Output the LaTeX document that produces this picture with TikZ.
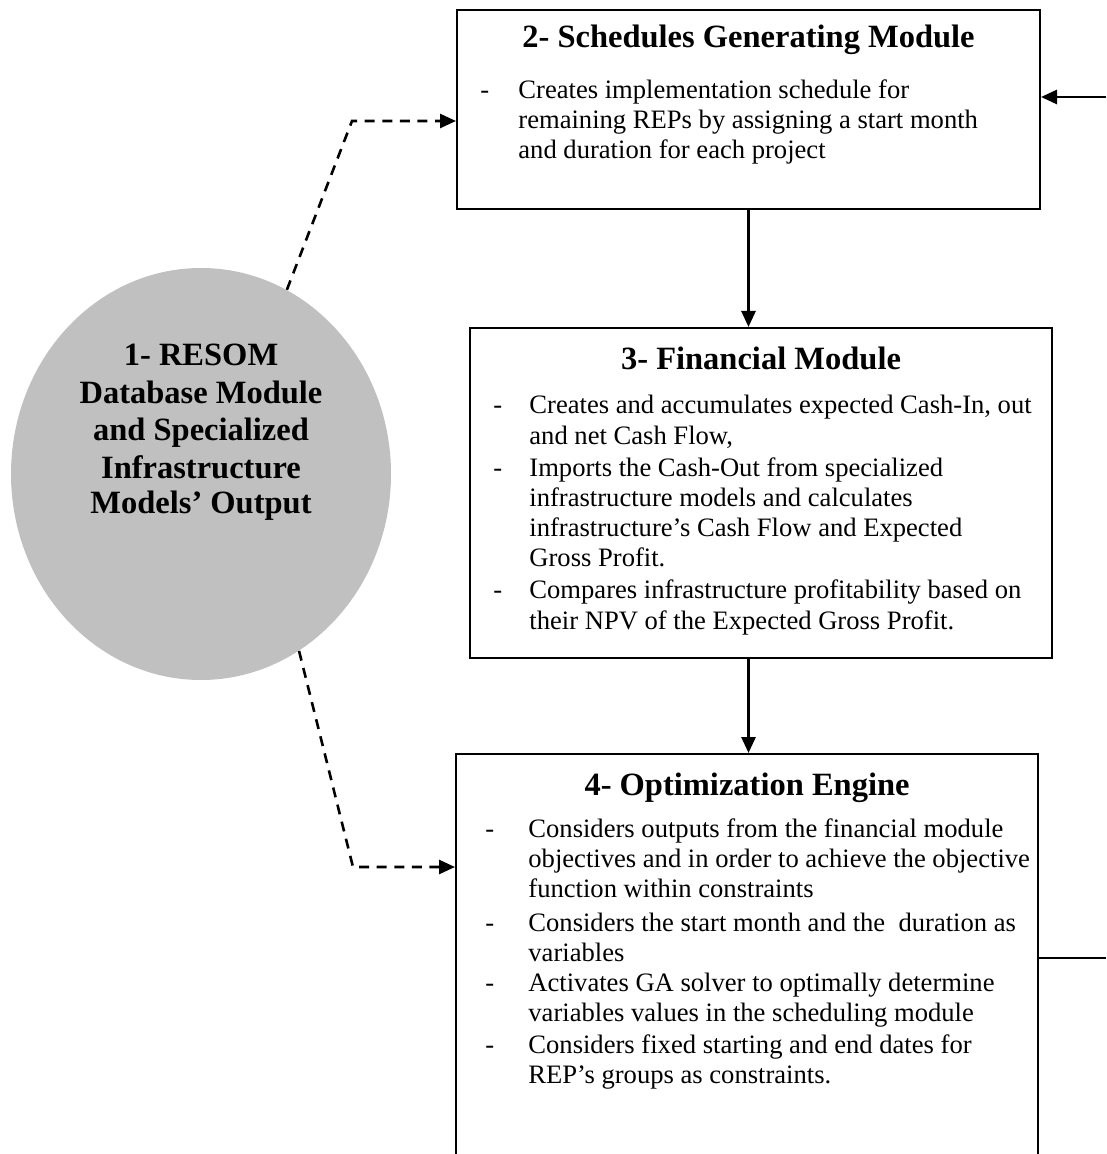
\documentclass[tikz,border=0pt]{standalone}
\usepackage{fontspec}
\setmainfont{Liberation Serif}
\usetikzlibrary{arrows.meta,shapes.geometric}
\definecolor{dbgray}{HTML}{C0C0C0}
\begin{document}
\begin{tikzpicture}[x=0.5pt,y=-0.5pt,
  box/.style={draw,line width=1pt,rectangle,inner sep=0pt},
  arr/.style={line width=1.4pt,-{Triangle[length=8pt,width=7pt]}},
  dashlink/.style={dash pattern=on 5pt off 3.8pt,line width=1.3pt,-{Triangle[length=8pt,width=7pt]}},
  title/.style={font=\fontsize{16.25}{18}\selectfont\bfseries,anchor=base,inner sep=0pt},
  body/.style={font=\fontsize{13.3}{15}\selectfont,anchor=base west,inner sep=0pt}]
\useasboundingbox (0,0) rectangle (1106,1154);
\clip (0,0) rectangle (1106,1154);

% module 1: database ellipse
\node[ellipse,fill=dbgray,minimum width=190pt,minimum height=206pt,inner sep=0pt] (e) at (201,474) {};
\foreach \yy/\t [count=\i] in {365/{1- RESOM},403/{Database Module},440/{and Specialized},478/{Infrastructure},513/{Models’ Output}}
  \node[title] (el\i) at (201,\yy) {\t};

% module boxes
\node[box,minimum width=291.5pt,minimum height=99.5pt] (b2) at (748.5,109.5) {};
\node[box,minimum width=291pt,minimum height=165pt] (b3) at (761,493) {};
\node[box,minimum width=291pt,minimum height=223pt] (b4) at (747,977) {};

% titles
\node[title] (t2) at (b2.center |- 0,48) {2- Schedules Generating Module};
\node[title] (t3) at (b3.center |- 0,370) {3- Financial Module};
\node[title] (t4) at (b4.center |- 0,795) {4- Optimization Engine};

% module 2 text
\node[body] (d21) at (480,99) {-};
\foreach \yy/\t [count=\i] in {99/{Creates implementation schedule for},129/{remaining REPs by assigning a start month},159/{and duration for each project}}
  \node[body] (l2\i) at (518,\yy) {\t};

% module 3 text
\foreach \yy [count=\i] in {414,476,598}
  \node[body] (d3\i) at (493,\yy) {-};
\foreach \yy/\t [count=\i] in {414/{Creates and accumulates expected Cash-In, out},444/{and net Cash Flow,},476/{Imports the Cash-Out from specialized},506/{infrastructure models and calculates},536/{infrastructure’s Cash Flow and Expected},566/{Gross Profit.},598/{Compares infrastructure profitability based on},629/{their NPV of the Expected Gross Profit.}}
  \node[body] (l3\i) at (529,\yy) {\t};

% module 4 text
\foreach \yy [count=\i] in {837,931,991,1053}
  \node[body] (d4\i) at (485,\yy) {-};
\foreach \yy/\t [count=\i] in {837/{Considers outputs from the financial module},867/{objectives and in order to achieve the objective},897/{function within constraints},931/{Considers the start month and the \ duration as},961/{variables},991/{Activates GA solver to optimally determine},1021/{variables values in the scheduling module},1053/{Considers fixed starting and end dates for},1083/{REP’s groups as constraints.}}
  \node[body] (l4\i) at (528,\yy) {\t};

% connectors
\coordinate (k1) at (352,121);
\coordinate (k2) at (353,867);
\draw[dashlink] (e.65) -- (k1) -- (k1 -| b2.west);
\draw[dashlink] (e.-61) -- (k2) -- (k2 -| b4.west);
\draw[arr] (b2.south) -- (b2.south |- b3.north);
\draw[arr] (b2.south |- b3.south) -- (b2.south |- b4.north);
\coordinate (r1) at (1106,97);
\coordinate (r2) at (1106,958);
\draw[arr] (r1) -- (r1 -| b2.east);
\draw[line width=1.4pt] (r2 -| b4.east) -- (r2);
\end{tikzpicture}
\end{document}
